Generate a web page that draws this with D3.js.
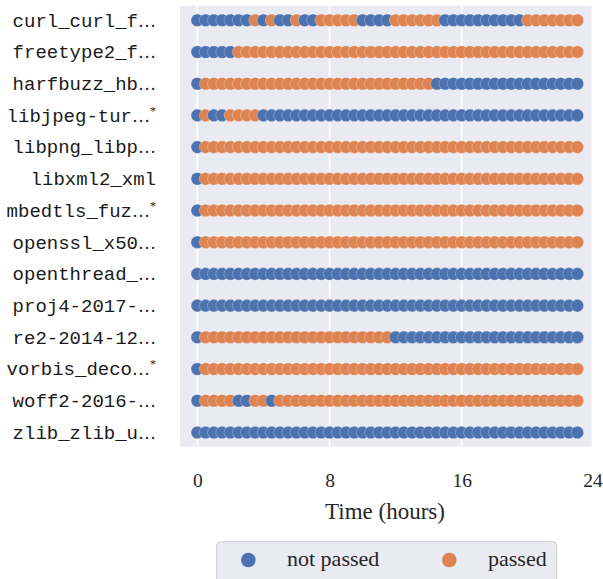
<!DOCTYPE html>
<html>
<head>
<meta charset="utf-8">
<script src="https://cdn.jsdelivr.net/npm/d3@7"></script>
<style>
  html, body { margin: 0; padding: 0; background: #fff; }
  svg { display: block; }
</style>
</head>
<body>
<svg id="chart" width="603" height="579"></svg>
<script>
// ---- data ----
const categories = [
  "curl_curl_f", "freetype2_f", "harfbuzz_hb", "libjpeg-tur", "libpng_libp",
  "libxml2_xml", "mbedtls_fuz", "openssl_x50", "openthread_", "proj4-2017-",
  "re2-2014-12", "vorbis_deco", "woff2-2016-", "zlib_zlib_u"
];
const truncated = [true, true, true, true, true, false, true, true, true, true, true, true, true, true];
const starred   = [false, false, false, true, false, false, true, false, false, false, false, true, false, false];

// sample times (hours)
const times = [0, 0.5, 1, 1.5, 2, 2.5, 3, 3.5, 4, 4.5, 5, 5.5, 6, 6.5, 7, 7.5, 8, 8.5, 9, 9.5,
  10, 10.5, 11, 11.5, 12, 12.5, 13, 13.5, 14, 14.5, 15, 15.5, 16, 16.5, 17, 17.5, 18, 18.5, 19, 19.5,
  20, 20.5, 21, 21.5, 22, 22.5, 23];

// status per sample: B = not passed, O = passed (groups of 10 samples)
const status = [
  "BBBBBBBOBO BBOBBOOOOO BBBBOOOOOO BBBBBBBBBB OOOOOOO", // curl
  "BBBBBOOOOO OOOOOOOOOO OOOOOOOOOO OOOOOOOOOO OOOOOOO", // freetype2
  "BOOOOOOOOO OOOOOOOOOO OOOOOOOOOB BBBBBBBBBB BBBBBBB", // harfbuzz
  "BOBBOOOOBB BBBBBBBBBB BBBBBBBBBB BBBBBBBBBB BBBBBBB", // libjpeg
  "BOOOOOOOOO OOOOOOOOOO OOOOOOOOOO OOOOOOOOOO OOOOOOO", // libpng
  "BOOOOOOOOO OOOOOOOOOO OOOOOOOOOO OOOOOOOOOO OOOOOOO", // libxml2
  "BOOOOOOOOO OOOOOOOOOO OOOOOOOOOO OOOOOOOOOO OOOOOOO", // mbedtls
  "BOOOOOOOOO OOOOOOOOOO OOOOOOOOOO OOOOOOOOOO OOOOOOO", // openssl
  "BBBBBBBBBB BBBBBBBBBB BBBBBBBBBB BBBBBBBBBB BBBBBBB", // openthread
  "BBBBBBBBBB BBBBBBBBBB BBBBBBBBBB BBBBBBBBBB BBBBBBB", // proj4
  "BOOOOOOOOO OOOOOOOOOO OOOOBBBBBB BBBBBBBBBB BBBBBBB", // re2
  "BOOOOOOOOO OOOOOOOOOO OOOOOOOOOO OOOOOOOOOO OOOOOOO", // vorbis
  "BOOOOBBOOB OOOOOOOOOO OOOOOOOOOO OOOOOOOOOO OOOOOOO", // woff2
  "BBBBBBBBBB BBBBBBBBBB BBBBBBBBBB BBBBBBBBBB BBBBBBB"  // zlib
];

const xTicks = [0, 8, 16, 24];
const legendLabels = ["not passed", "passed"];
const colors = { B: "#4C72B0", O: "#DD8452" };

// ---- build ----
const svg = d3.select("#chart");
const plot = { left: 180, right: 591.7, top: 6, bottom: 446.7 };

const x = d3.scaleLinear().domain([-1.047, 23.867]).range([plot.left, plot.right]);
const y = d3.scalePoint().domain(categories).range([plot.top, plot.bottom]).padding(0.45);

svg.append("rect")
  .attr("x", plot.left).attr("y", plot.top)
  .attr("width", plot.right - plot.left).attr("height", plot.bottom - plot.top)
  .attr("fill", "#EAEAF2");

// vertical grid
svg.append("g").selectAll("line")
  .data(xTicks.filter(t => x(t) < plot.right))
  .join("line")
  .attr("x1", d => x(d)).attr("x2", d => x(d))
  .attr("y1", plot.top).attr("y2", plot.bottom)
  .attr("stroke", "#fff").attr("stroke-width", 1.6);

// points
const rows = svg.append("g").selectAll("g").data(categories).join("g");
rows.each(function (c, ci) {
  const s = status[ci].replace(/ /g, "");
  d3.select(this).selectAll("circle")
    .data(times.map((t, ti) => ({ t: t, st: s[ti] })))
    .join("circle")
    .attr("cx", d => x(d.t))
    .attr("cy", y(c))
    .attr("r", 6.3)
    .attr("fill", d => colors[d.st])
    .attr("stroke", "#ffffff")
    .attr("stroke-opacity", 0.45)
    .attr("stroke-width", 0.6);
});

// y labels
const ylab = svg.append("g").selectAll("text").data(categories).join("text")
  .attr("x", 156)
  .attr("y", d => y(d))
  .attr("dy", 6.4)
  .attr("text-anchor", "end")
  .attr("fill", "#1a1a1a")
  .style("font-family", "'Liberation Mono', 'DejaVu Sans Mono', monospace")
  .style("font-size", "19px");
ylab.each(function (d, i) {
  const t = d3.select(this);
  t.append("tspan").text(d);
  if (truncated[i]) {
    t.append("tspan").text("\u2026")
      .style("font-family", "'Liberation Serif', serif")
      .style("font-size", "18px");
  }
  if (starred[i]) {
    t.append("tspan").text("*")
      .attr("dy", -7)
      .style("font-family", "'Liberation Serif', serif")
      .style("font-size", "12px");
  }
});

// x axis
const xAxis = svg.append("g")
  .attr("transform", `translate(0,${plot.bottom})`)
  .call(d3.axisBottom(x).tickValues(xTicks).tickSize(0).tickFormat(d3.format("d")));
xAxis.select(".domain").remove();
xAxis.selectAll("text")
  .attr("y", 40).attr("dy", 0)
  .attr("dx", d => d === 24 ? -1.5 : 0)
  .attr("fill", "#262626")
  .style("font-family", "'Liberation Serif', serif")
  .style("font-size", "19.5px");

svg.append("text")
  .attr("x", 385).attr("y", 519)
  .attr("text-anchor", "middle")
  .attr("fill", "#262626")
  .style("font-family", "'Liberation Serif', serif")
  .style("font-size", "23px")
  .text("Time (hours)");

// legend
const lg = svg.append("g");
lg.append("rect")
  .attr("x", 216.7).attr("y", 541.7)
  .attr("width", 340).attr("height", 50)
  .attr("rx", 4)
  .attr("fill", "#EAEAF2")
  .attr("stroke", "#cccccc").attr("stroke-width", 1);
const legendX = [248.3, 449.3];
const legendKeys = ["B", "O"];
legendLabels.forEach((lab, i) => {
  lg.append("circle")
    .attr("cx", legendX[i]).attr("cy", 560)
    .attr("r", 7.3)
    .attr("fill", colors[legendKeys[i]]);
  lg.append("text")
    .attr("x", legendX[i] + 38.7).attr("y", 565.5)
    .attr("fill", "#262626")
    .style("font-family", "'Liberation Serif', serif")
    .style("font-size", "22px")
    .text(lab);
});
</script>
</body>
</html>
